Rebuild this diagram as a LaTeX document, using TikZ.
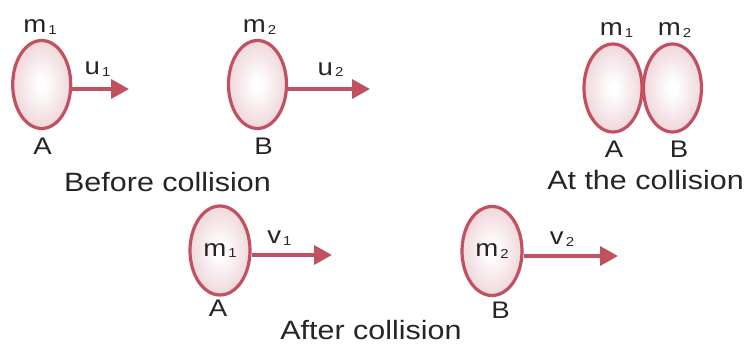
\documentclass[tikz,border=0pt]{standalone}
\usepackage{fontspec}
\setmainfont[FakeStretch=1.15]{Liberation Sans}
\usetikzlibrary{shapes.geometric,arrows.meta}

\definecolor{rim}{RGB}{193,80,96}
\definecolor{ballpink}{RGB}{222,170,178}
\definecolor{inkgray}{RGB}{38,36,37}
\pgfdeclareradialshading{ballshade}{\pgfpoint{0bp}{0bp}}{color(0bp)=(white); color(3bp)=(white); color(50bp)=(ballpink)}

\newcommand{\withsub}[2]{#1\kern2pt\raisebox{-1.5pt}{\fontsize{13}{13}\selectfont #2}}

\tikzset{
  ball/.style={ellipse,draw=rim,line width=3.2pt,shading=ballshade,
    minimum width=58pt,minimum height=88pt,inner sep=0pt,
    text=inkgray,font=\fontsize{24}{24}\selectfont},
  lbl/.style={anchor=base,inner sep=0pt,text=inkgray,font=\fontsize{24}{24}\selectfont},
  caption/.style={anchor=base,inner sep=0pt,text=inkgray,font=\fontsize{26.5}{26.5}\selectfont},
  motion/.style={draw=rim,line width=3.6pt,-{Triangle[length=18pt,width=19pt]}}
}

\begin{document}
\begin{tikzpicture}[x=1pt,y=-1pt]
\useasboundingbox (0,0) rectangle (752,344);

% before collision
\node[ball] (a1) at (41.7,84.5) {};
\node[ball] (b1) at (257.5,84.5) {};
\coordinate (ua) at (129,89);
\coordinate (ub) at (370,89);
\draw[motion] (a1.east |- ua) -- (ua);
\draw[motion] (b1.east |- ub) -- (ub);
\node[lbl] (ma1) at (40,33) {\withsub{m}{1}};
\node[lbl] (ua1) at (97.5,75) {\withsub{u}{1}};
\node[lbl] (na1) at (42.5,155) {A};
\node[lbl] (mb1) at (259.5,33) {\withsub{m}{2}};
\node[lbl] (ub1) at (330.5,75.5) {\withsub{u}{2}};
\node[lbl] (nb1) at (263.5,155) {B};
\node[caption] (before) at (167.5,192) {Before collision};

% at the collision
\node[ball] (a2) at (613,88) {};
\node[ball] (b2) at (672.5,88) {};
\node[lbl] (ma2) at (616.5,36) {\withsub{m}{1}};
\node[lbl] (mb2) at (674.5,36) {\withsub{m}{2}};
\node[lbl] (na2) at (614,158) {A};
\node[lbl] (nb2) at (679,158) {B};
\node[caption] (at) at (645.5,190) {At the collision};

% after collision
\node[ball,minimum width=60pt,minimum height=89pt] (a3) at (220,250.5) {\withsub{m}{1}};
\node[ball,minimum width=60pt,minimum height=89pt] (b3) at (492,251) {\withsub{m}{2}};
\coordinate (va) at (332,255);
\coordinate (vb) at (618,256);
\draw[motion] (a3.east |- va) -- (va);
\draw[motion] (b3.east |- vb) -- (vb);
\node[lbl] (va3) at (279.5,244) {\withsub{v}{1}};
\node[lbl] (vb3) at (562,245) {\withsub{v}{2}};
\node[lbl] (na3) at (218,317) {A};
\node[lbl] (nb3) at (500.5,319) {B};
\node[caption] (after) at (371,340) {After collision};
\end{tikzpicture}
\end{document}
